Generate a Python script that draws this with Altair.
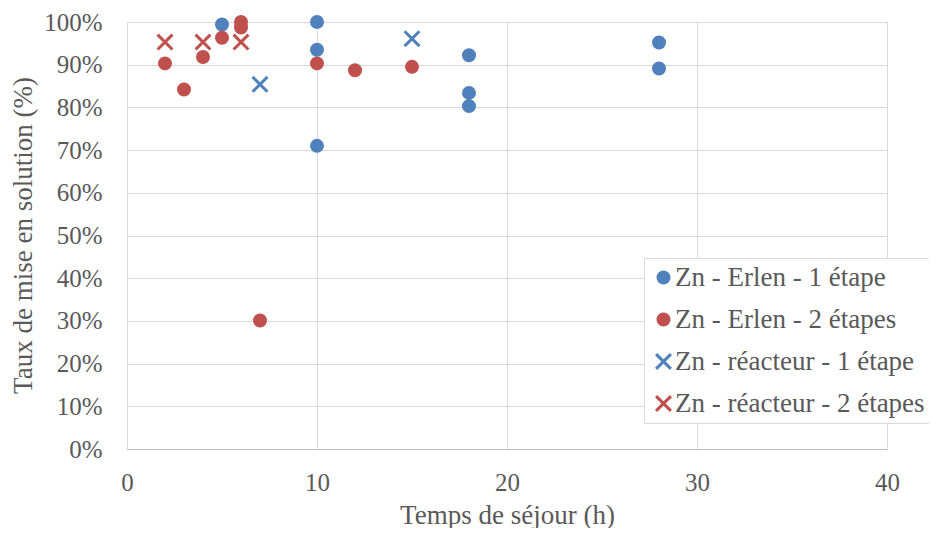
import altair as alt
import pandas as pd

series_names = [
    "Zn - Erlen - 1 étape",
    "Zn - Erlen - 2 étapes",
    "Zn - réacteur - 1 étape",
    "Zn - réacteur - 2 étapes",
]
series_colors = ["#4F81BD", "#C0504D", "#4F81BD", "#C0504D"]

erlen1_x = [5, 10, 10, 10, 18, 18, 18, 28, 28]
erlen1_y = [0.994, 1.0, 0.935, 0.71, 0.922, 0.834, 0.803, 0.952, 0.891]
erlen2_x = [2, 3, 4, 5, 6, 6, 7, 10, 12, 15]
erlen2_y = [0.903, 0.842, 0.918, 0.963, 1.0, 0.987, 0.301, 0.903, 0.887, 0.895]
reac1_x = [7, 15]
reac1_y = [0.854, 0.961]
reac2_x = [2, 4, 6]
reac2_y = [0.953, 0.953, 0.953]

x_ticks = [0, 10, 20, 30, 40]
y_ticks = [i / 10 for i in range(11)]

rows = []
for name, xs, ys in zip(series_names,
                        [erlen1_x, erlen2_x, reac1_x, reac2_x],
                        [erlen1_y, erlen2_y, reac1_y, reac2_y]):
    for xv, yv in zip(xs, ys):
        rows.append({"series": name, "x": xv, "y": yv})
df = pd.DataFrame(rows)

xshape = "M-1.35,-1.35L1.35,1.35M-1.35,1.35L1.35,-1.35"
shapes = ["circle", "circle", xshape, xshape]
fills = ["#4F81BD", "#C0504D", "transparent", "transparent"]

FONT = "Liberation Serif"
TXT = "#595959"
GRID = "#D9D9D9"

legend = alt.Legend(
    title=None, orient="none", legendX=517, legendY=236,
    labelFont=FONT, labelFontSize=27, labelColor=TXT, labelLimit=500,
    strokeColor=GRID, fillColor="white", padding=6, rowPadding=14,
    symbolSize=121, symbolStrokeWidth=3, labelOffset=alt.ExprRef("-2"),
)

chart = alt.Chart(df).mark_point(
    filled=False, strokeWidth=3, size=121, opacity=1
).encode(
    x=alt.X("x:Q", scale=alt.Scale(domain=[0, 40], nice=False),
            axis=alt.Axis(values=x_ticks, title="Temps de séjour (h)",
                          ticks=False, labelPadding=21, titleY=66,
                          labelFlush=False,
                          titleBaseline="middle", domainColor="#BFBFBF")),
    y=alt.Y("y:Q", scale=alt.Scale(domain=[0, 1], nice=False),
            axis=alt.Axis(values=y_ticks, format=".0%",
                          title="Taux de mise en solution (%)",
                          ticks=False, labelPadding=25, domainColor=GRID,
                          labelFlush=False,
                          titleX=-104, titleY=213, titleAngle=-90,
                          titleAlign="center", titleBaseline="middle")),
    color=alt.Color("series:N", scale=alt.Scale(domain=series_names, range=series_colors), legend=legend),
    fill=alt.Fill("series:N", scale=alt.Scale(domain=series_names, range=fills), legend=legend),
    shape=alt.Shape("series:N", scale=alt.Scale(domain=series_names, range=shapes), legend=legend),
).properties(
    width=760, height=427,
    autosize=alt.AutoSizeParams(type="none"),
    padding={"left": 119, "top": 14, "right": 42, "bottom": 79},
).configure_view(
    stroke=None
).configure_axis(
    labelFont=FONT, labelFontSize=25, labelColor=TXT,
    titleFont=FONT, titleFontSize=27, titleColor=TXT, titleFontWeight="normal",
    gridColor=GRID, gridWidth=1, domainWidth=1,
)

chart.save("out.html", embed_options={"renderer": "svg", "actions": False})
